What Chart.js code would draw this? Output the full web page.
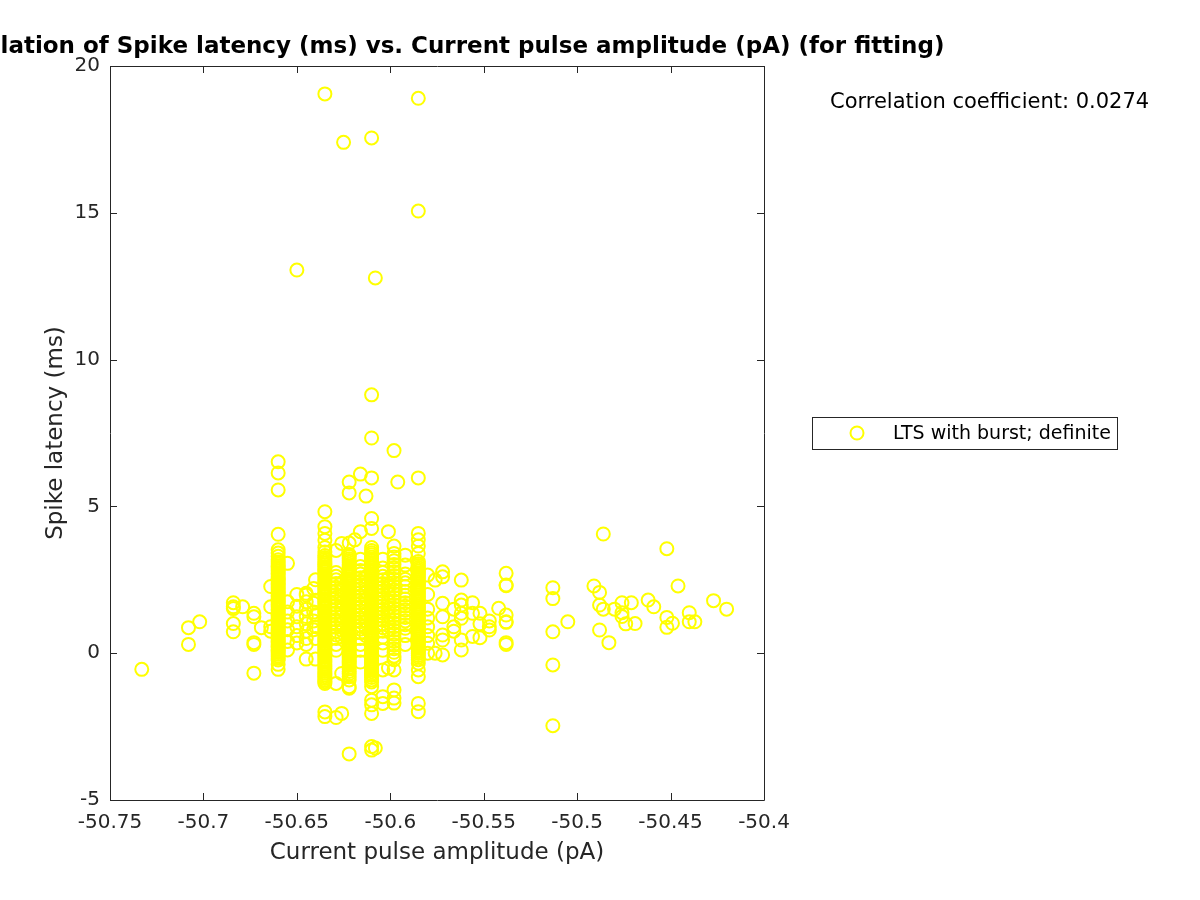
<!DOCTYPE html>
<html>
<head>
<meta charset="utf-8">
<script src="https://cdn.jsdelivr.net/npm/chart.js@4/dist/chart.umd.min.js"></script>
<style>
    body { margin: 0; background: #fff; }
    #wrap { width: 1200px; height: 900px; }
</style>
</head>
<body>
<div id="wrap"><canvas id="chart" width="1200" height="900"></canvas></div>
<script>
// current pulse amplitude (pA) of each column of points
const amplitudes = [
    -50.733, -50.708, -50.702, -50.684, -50.679, -50.673, -50.669, -50.664,
    -50.660, -50.655, -50.650, -50.645, -50.641, -50.640, -50.635, -50.629,
    -50.626, -50.625, -50.622, -50.619, -50.616, -50.613, -50.610, -50.608,
    -50.604, -50.601, -50.598, -50.596, -50.592, -50.585, -50.580, -50.576,
    -50.572, -50.566, -50.562, -50.556, -50.552, -50.547, -50.542, -50.538,
    -50.513, -50.505, -50.491, -50.488, -50.486, -50.483, -50.480, -50.476,
    -50.474, -50.471, -50.469, -50.462, -50.459, -50.452, -50.449, -50.446,
    -50.440, -50.437, -50.427, -50.420
];

// spike latency (ms) values for each amplitude above
const latencies = [
    [-0.55],
    [0.87, 0.30],
    [1.07],
    [1.72, 1.58, 1.52, 1.01, 0.73],
    [1.58],
    [1.36, 1.24, 0.36, 0.30, -0.68],
    [0.87],
    [2.27, 1.58, 0.90, 0.75],
    [6.52, 6.14, 5.56, 4.05, 3.52, 3.41, 3.30, 3.18, 3.11, 3.04, 2.97, 2.92, 2.86, 2.80, 2.73, 2.69, 2.62, 2.55, 2.51, 2.44, 2.38, 2.33, 2.26, 2.21, 2.15, 2.08, 2.03, 1.97, 1.92, 1.85, 1.79, 1.74, 1.68, 1.63, 1.57, 1.50, 1.46, 1.39, 1.33, 1.28, 1.21, 1.16, 1.10, 1.04, 0.99, 0.93, 0.86, 0.81, 0.76, 0.70, 0.64, 0.58, 0.53, 0.47, 0.41, 0.36, 0.30, 0.24, 0.19, 0.13, 0.08, 0.02, -0.04, -0.10, -0.17, -0.23, -0.38, -0.55],
    [3.06, 1.75, 1.40, 1.10, 0.80, 0.40, 0.11],
    [13.05, 2.00, 1.60, 1.24, 0.90, 0.60, 0.35],
    [2.04, 1.98, 1.75, 1.50, 1.25, 1.00, 0.75, 0.50, 0.30, -0.20],
    [2.20, 1.70, 1.40, 1.10, 0.80],
    [2.50, 1.80, 1.30, 0.90, 0.50, -0.20],
    [19.05, 4.82, 4.31, 4.08, 3.85, 3.60, 3.45, 3.33, 3.26, 3.20, 3.13, 3.07, 3.01, 2.95, 2.88, 2.83, 2.77, 2.70, 2.64, 2.59, 2.52, 2.46, 2.41, 2.35, 2.28, 2.22, 2.17, 2.11, 2.04, 1.99, 1.93, 1.86, 1.81, 1.75, 1.69, 1.63, 1.57, 1.52, 1.45, 1.40, 1.34, 1.27, 1.22, 1.16, 1.10, 1.04, 0.98, 0.93, 0.87, 0.80, 0.75, 0.69, 0.63, 0.57, 0.51, 0.46, 0.40, 0.33, 0.28, 0.22, 0.16, 0.10, 0.05, -0.02, -0.08, -0.13, -0.20, -0.26, -0.31, -0.38, -0.44, -0.50, -0.55, -0.62, -0.68, -0.74, -0.80, -0.86, -0.92, -0.97, -1.03, -2.00, -2.16],
    [3.50, 2.75, 2.62, 2.50, 2.37, 2.25, 2.12, 2.00, 1.88, 1.75, 1.63, 1.50, 1.38, 1.25, 1.13, 1.00, 0.88, 0.75, 0.62, 0.50, 0.30, 0.10, -1.03, -2.19],
    [3.74, 2.40, 2.18, 1.95, 1.72, 1.48, 1.25, 1.02, 0.78, 0.55, -0.69, -2.05],
    [17.40],
    [5.83, 5.46, 3.75, 3.36, 3.29, 3.22, 3.16, 3.10, 3.03, 2.97, 2.91, 2.85, 2.79, 2.72, 2.66, 2.61, 2.54, 2.48, 2.42, 2.36, 2.30, 2.23, 2.18, 2.12, 2.05, 1.99, 1.94, 1.87, 1.81, 1.76, 1.69, 1.64, 1.58, 1.51, 1.46, 1.40, 1.33, 1.28, 1.22, 1.15, 1.10, 1.03, 0.98, 0.92, 0.85, 0.80, 0.74, 0.67, 0.62, 0.56, 0.50, 0.44, 0.38, 0.32, 0.26, 0.20, 0.14, 0.08, 0.02, -0.04, -0.10, -0.16, -0.23, -0.29, -0.35, -0.41, -0.48, -0.54, -0.62, -0.70, -0.80, -0.91, -1.14, -1.19, -3.43],
    [3.86],
    [6.10, 4.14, 3.20, 2.95, 2.82, 2.70, 2.57, 2.45, 2.32, 2.20, 2.07, 1.95, 1.82, 1.70, 1.57, 1.45, 1.32, 1.20, 1.07, 0.95, 0.82, 0.70, 0.50, 0.30, 0.10, -0.30],
    [5.35, 2.60, 2.35, 2.10, 1.85, 1.60, 1.35, 1.10, 0.85, 0.60],
    [17.55, 8.80, 7.33, 5.97, 4.59, 4.25, 3.60, 3.50, 3.42, 3.35, 3.28, 3.22, 3.15, 3.09, 3.03, 2.96, 2.90, 2.84, 2.78, 2.71, 2.65, 2.59, 2.53, 2.47, 2.40, 2.34, 2.28, 2.22, 2.16, 2.09, 2.03, 1.97, 1.91, 1.85, 1.78, 1.72, 1.66, 1.60, 1.54, 1.47, 1.41, 1.35, 1.29, 1.23, 1.16, 1.10, 1.04, 0.98, 0.92, 0.85, 0.79, 0.73, 0.67, 0.61, 0.54, 0.48, 0.42, 0.36, 0.30, 0.23, 0.17, 0.11, 0.05, -0.01, -0.08, -0.14, -0.20, -0.26, -0.32, -0.39, -0.45, -0.51, -0.57, -0.63, -0.70, -0.76, -0.83, -0.91, -0.98, -1.14, -1.60, -1.76, -2.05, -3.18, -3.30],
    [12.78, -3.23],
    [3.20, 2.90, 2.75, 2.62, 2.50, 2.37, 2.25, 2.12, 2.00, 1.87, 1.75, 1.62, 1.50, 1.37, 1.25, 1.12, 1.00, 0.87, 0.75, 0.55, 0.35, 0.10, -0.57, -1.48, -1.71],
    [4.14, 2.55, 2.30, 2.05, 1.80, 1.55, 1.30, 1.05, 0.80, -0.50],
    [6.90, 3.65, 3.40, 3.28, 3.15, 3.02, 2.90, 2.77, 2.65, 2.52, 2.40, 2.28, 2.15, 2.03, 1.90, 1.78, 1.65, 1.53, 1.40, 1.28, 1.15, 1.03, 0.90, 0.78, 0.65, 0.53, 0.40, 0.28, 0.15, 0.03, -0.10, -0.22, -0.57, -1.25, -1.53, -1.70],
    [5.83],
    [3.34, 3.00, 2.70, 2.52, 2.40, 2.27, 2.10, 1.97, 1.85, 1.72, 1.60, 1.47, 1.35, 1.22, 1.10, 0.97, 0.85, 0.60, 0.30],
    [18.90, 15.06, 5.97, 4.08, 3.86, 3.65, 3.40, 3.12, 3.05, 2.99, 2.92, 2.86, 2.80, 2.74, 2.67, 2.61, 2.55, 2.49, 2.42, 2.36, 2.30, 2.24, 2.17, 2.11, 2.05, 1.99, 1.92, 1.86, 1.80, 1.74, 1.67, 1.61, 1.55, 1.49, 1.42, 1.36, 1.30, 1.24, 1.17, 1.11, 1.05, 0.99, 0.92, 0.86, 0.80, 0.74, 0.67, 0.61, 0.55, 0.49, 0.42, 0.36, 0.30, 0.24, 0.17, 0.11, 0.05, -0.01, -0.08, -0.14, -0.22, -0.34, -0.57, -0.80, -1.71, -1.99],
    [2.66, 2.00, 1.50, 1.20, 0.90, 0.60, 0.34, 0.00],
    [2.49, 0.00],
    [2.77, 2.60, 1.70, 1.24, 0.62, 0.45, -0.06],
    [1.50, 0.90, 0.75],
    [2.49, 1.81, 1.64, 1.36, 1.19, 0.45, 0.11],
    [1.72, 1.36, 0.57],
    [1.36, 1.00, 0.53],
    [1.10, 0.90, 0.79],
    [1.53],
    [2.72, 2.32, 2.30, 1.30, 1.07, 1.05, 0.36, 0.30],
    [2.23, 1.86, 0.73, -0.40, -2.47],
    [1.07],
    [2.29],
    [2.07, 1.64, 0.79],
    [4.06, 1.50],
    [0.36],
    [1.50],
    [1.72, 1.38, 1.25],
    [1.00],
    [1.72],
    [1.01],
    [1.81],
    [1.58],
    [3.56, 1.22, 0.88],
    [1.02],
    [2.29],
    [1.38, 1.07],
    [1.07],
    [1.79],
    [1.50]
];

const xTicks = [-50.75, -50.7, -50.65, -50.6, -50.55, -50.5, -50.45, -50.4];
const yTicks = [-5, 0, 5, 10, 15, 20];

const titleText = 'Correlation of Spike latency (ms) vs. Current pulse amplitude (pA) (for fitting)';
const xLabel = 'Current pulse amplitude (pA)';
const yLabel = 'Spike latency (ms)';
const legendLabel = 'LTS with burst; definite';
const corrText = 'Correlation coefficient: 0.0274';

const FONT = '"DejaVu Sans", sans-serif';
const INK = '#262626';
const YELLOW = '#ffff00';

let points = [];
for (let i = 0; i < amplitudes.length; ++i) {
    for (let y of latencies[i]) {
        points.push({x: amplitudes[i], y: y});
    }
}

// axes box, inward ticks, titles, legend and the text box
const decor = {
    id: 'decor',
    afterDraw(chart) {
        const ctx = chart.ctx;
        const a = chart.chartArea;
        const xs = chart.scales.x, ys = chart.scales.y;
        ctx.save();
        ctx.strokeStyle = INK;
        ctx.lineWidth = 1;
        ctx.beginPath();
        ctx.rect(a.left + 0.5, a.top + 0.5, a.right - a.left, a.bottom - a.top);
        for (let t of xTicks) {
            let px = Math.round(xs.getPixelForValue(t)) + 0.5;
            ctx.moveTo(px, a.bottom); ctx.lineTo(px, a.bottom - 7);
            ctx.moveTo(px, a.top); ctx.lineTo(px, a.top + 7);
        }
        for (let t of yTicks) {
            let py = Math.round(ys.getPixelForValue(t)) + 0.5;
            ctx.moveTo(a.left, py); ctx.lineTo(a.left + 7, py);
            ctx.moveTo(a.right, py); ctx.lineTo(a.right - 7, py);
        }
        ctx.stroke();

        const cx = (a.left + a.right) / 2;
        ctx.fillStyle = '#000';
        ctx.textAlign = 'center';
        ctx.textBaseline = 'middle';
        ctx.font = 'bold 23px ' + FONT;
        ctx.fillText(titleText, cx, 47);

        ctx.fillStyle = INK;
        ctx.font = '23px ' + FONT;
        ctx.fillText(xLabel, cx, 853);
        ctx.save();
        ctx.translate(56, (a.top + a.bottom) / 2);
        ctx.rotate(-Math.PI / 2);
        ctx.fillText(yLabel, 0, 0);
        ctx.restore();

        ctx.fillStyle = '#000';
        ctx.textAlign = 'left';
        ctx.font = '21px ' + FONT;
        ctx.fillText(corrText, 830, 103);

        // legend
        ctx.fillStyle = '#fff';
        ctx.fillRect(812, 417, 306, 33);
        ctx.strokeStyle = INK;
        ctx.lineWidth = 1;
        ctx.strokeRect(812.5, 417.5, 305, 32);
        ctx.strokeStyle = YELLOW;
        ctx.lineWidth = 2;
        ctx.beginPath();
        ctx.arc(857, 433, 6.5, 0, Math.PI * 2);
        ctx.stroke();
        ctx.fillStyle = '#000';
        ctx.font = '19px ' + FONT;
        ctx.fillText(legendLabel, 893, 434);
        ctx.restore();
    }
};

new Chart(document.getElementById('chart'), {
    type: 'scatter',
    data: {
        datasets: [{
            label: legendLabel,
            data: points,
            pointStyle: 'circle',
            pointRadius: 6.5,
            pointBorderWidth: 2,
            borderColor: YELLOW,
            backgroundColor: 'rgba(0,0,0,0)'
        }]
    },
    options: {
        responsive: false,
        animation: false,
        layout: {padding: {top: 66, right: 436, left: 0, bottom: 0}},
        plugins: {
            legend: {display: false},
            title: {display: false},
            tooltip: {enabled: false}
        },
        scales: {
            x: {
                type: 'linear',
                min: -50.75,
                max: -50.4,
                afterFit: (s) => { s.height = 100; },
                afterBuildTicks: (s) => { s.ticks = xTicks.map(v => ({value: v})); },
                grid: {display: false, drawTicks: false},
                border: {display: false},
                ticks: {
                    padding: 11,
                    color: INK,
                    font: {family: FONT, size: 20},
                    callback: (v) => String(Number(v.toFixed(2)))
                }
            },
            y: {
                type: 'linear',
                min: -5,
                max: 20,
                afterFit: (s) => { s.width = 110; },
                afterBuildTicks: (s) => { s.ticks = yTicks.map(v => ({value: v})); },
                grid: {display: false, drawTicks: false},
                border: {display: false},
                ticks: {
                    padding: 10,
                    color: INK,
                    font: {family: FONT, size: 20},
                    callback: (v) => String(v)
                }
            }
        }
    },
    plugins: [decor]
});
</script>
</body>
</html>
